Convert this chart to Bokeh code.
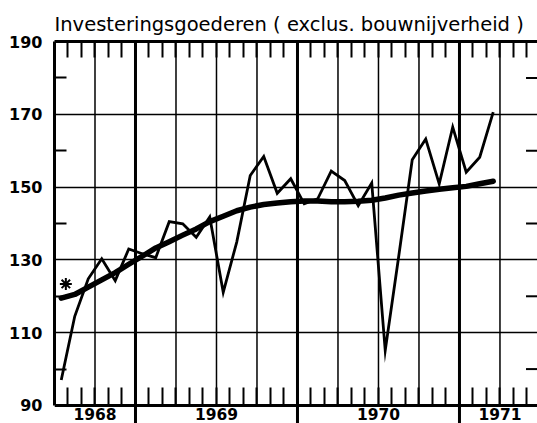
from bokeh.plotting import figure
from bokeh.models import FixedTicker, LinearAxis, Grid, Range1d
from bokeh.embed import file_html
from bokeh.resources import INLINE

# ---- data (monthly, July 1968 .. March 1971) ----
months = ["1968-07", "1968-08", "1968-09", "1968-10", "1968-11", "1968-12",
          "1969-01", "1969-02", "1969-03", "1969-04", "1969-05", "1969-06",
          "1969-07", "1969-08", "1969-09", "1969-10", "1969-11", "1969-12",
          "1970-01", "1970-02", "1970-03", "1970-04", "1970-05", "1970-06",
          "1970-07", "1970-08", "1970-09", "1970-10", "1970-11", "1970-12",
          "1971-01", "1971-02", "1971-03"]
index_values = [97.0, 114.5, 124.8, 130.3, 124.3, 133.0,
                131.7, 130.6, 140.5, 139.9, 136.2, 141.8,
                121.1, 134.9, 153.2, 158.4, 148.3, 152.3,
                145.4, 146.8, 154.4, 151.8, 144.9, 151.1,
                105.1, 131.0, 157.5, 163.2, 150.9, 166.5,
                154.1, 158.2, 170.6]
trend_values = [119.5, 120.5, 122.5, 124.5, 126.5, 128.8,
                131.0, 133.3, 135.0, 136.8, 138.5, 140.5,
                142.0, 143.5, 144.5, 145.2, 145.6, 146.0,
                146.2, 146.2, 146.0, 146.0, 146.1, 146.4,
                147.0, 147.8, 148.4, 148.9, 149.4, 149.8,
                150.2, 150.9, 151.6]
star_month = [0.84]
star_value = [123.4]

y_ticks = [90, 110, 130, 150, 170, 190]
y_minor = [100, 120, 140, 160, 180]
y_grid = [110, 130, 150, 170]
year_labels = ["1968", "1969", "1970", "1971"]
year_label_pos = [3, 12, 24, 33]      # months since July 1968
year_starts = [6, 18, 30]
quarter_lines = [3, 9, 12, 15, 21, 24, 27, 33]
month_ticks = list(range(1, 36))
title_text = "Investeringsgoederen ( exclus. bouwnijverheid )"

x = [i + 0.5 for i in range(len(months))]

FONT = "DejaVu Sans"
Y0, Y1 = 85.05, 190          # frame reaches below the 90 line (label strip)
X0, X1 = 0, 35.78

p = figure(width=537, height=423,
           x_range=Range1d(X0, X1), y_range=Range1d(Y0, Y1),
           x_axis_type=None, y_axis_type=None,
           output_backend="svg", toolbar_location=None,
           min_border_left=54, min_border_right=0,
           min_border_top=41, min_border_bottom=0,
           title=title_text)
p.outline_line_color = None
p.background_fill_color = "white"
p.border_fill_color = "white"

p.title.text_font = FONT
p.title.text_font_style = "normal"
p.title.text_font_size = "19.5px"
p.title.text_color = "black"
p.title.align = "left"
p.title.offset = 0
p.title.standoff = 12

# left axis
left = LinearAxis(ticker=FixedTicker(ticks=y_ticks, minor_ticks=y_minor),
                  bounds=(90, 190),
                  axis_line_width=3, axis_line_color="black",
                  major_tick_in=0, major_tick_out=0,
                  minor_tick_in=12, minor_tick_out=0, minor_tick_line_width=2,
                  minor_tick_line_color="black",
                  major_label_standoff=12,
                  major_label_text_font=FONT,
                  major_label_text_font_style="bold",
                  major_label_text_font_size="16px",
                  major_label_text_color="black")
p.add_layout(left, "left")

# top axis (monthly ticks pointing down)
top = LinearAxis(ticker=FixedTicker(ticks=[], minor_ticks=month_ticks),
                 axis_line_width=3, axis_line_color="black",
                 major_tick_in=0, major_tick_out=0,
                 minor_tick_in=16, minor_tick_out=0, minor_tick_line_width=2,
                 minor_tick_line_color="black",
                 major_label_text_font_size="0px",
                 major_label_standoff=0)
p.add_layout(top, "above")

# bottom axis at value 90: line + monthly ticks pointing up
bottom_ticks = LinearAxis(ticker=FixedTicker(ticks=[], minor_ticks=month_ticks),
                          fixed_location=90,
                          axis_line_width=3, axis_line_color="black",
                          major_tick_in=0, major_tick_out=0,
                          minor_tick_in=18, minor_tick_out=0,
                          minor_tick_line_width=2, minor_tick_line_color="black",
                          major_label_text_font_size="0px",
                          major_label_standoff=0)
p.add_layout(bottom_ticks, "below")

# bottom axis at value 90: year labels
bottom_labels = LinearAxis(ticker=FixedTicker(ticks=year_label_pos),
                           fixed_location=90,
                           axis_line_color=None,
                           major_tick_in=0, major_tick_out=0,
                           minor_tick_line_color=None,
                           major_label_overrides=dict(zip(year_label_pos, year_labels)),
                           major_label_standoff=3,
                           major_label_text_font=FONT,
                           major_label_text_font_style="bold",
                           major_label_text_font_size="15.5px",
                           major_label_text_color="black")
p.add_layout(bottom_labels, "below")

# horizontal grid
p.add_layout(Grid(dimension=1, ticker=FixedTicker(ticks=y_grid),
                  grid_line_color="black", grid_line_width=1.5))

# vertical quarter lines (inside 90..190) and year lines (through the label strip)
p.segment(x0=quarter_lines, x1=quarter_lines,
          y0=[90] * len(quarter_lines), y1=[190] * len(quarter_lines),
          line_color="black", line_width=1.5, level="underlay")
p.segment(x0=year_starts, x1=year_starts,
          y0=[Y0] * len(year_starts), y1=[190] * len(year_starts),
          line_color="black", line_width=3, level="underlay")

# right-hand inner ticks
p.segment(x0=[X1 - 0.85] * len(y_minor), x1=[X1] * len(y_minor),
          y0=y_minor, y1=y_minor, line_color="black", line_width=2)

# series
p.line(x, index_values, line_color="black", line_width=2.8, line_join="miter")
p.line(x, trend_values, line_color="black", line_width=5.5,
       line_join="round", line_cap="round")
p.scatter(star_month, star_value, marker="asterisk", size=12,
          line_color="black", line_width=2)

open("out.html", "w").write(file_html(p, INLINE))
